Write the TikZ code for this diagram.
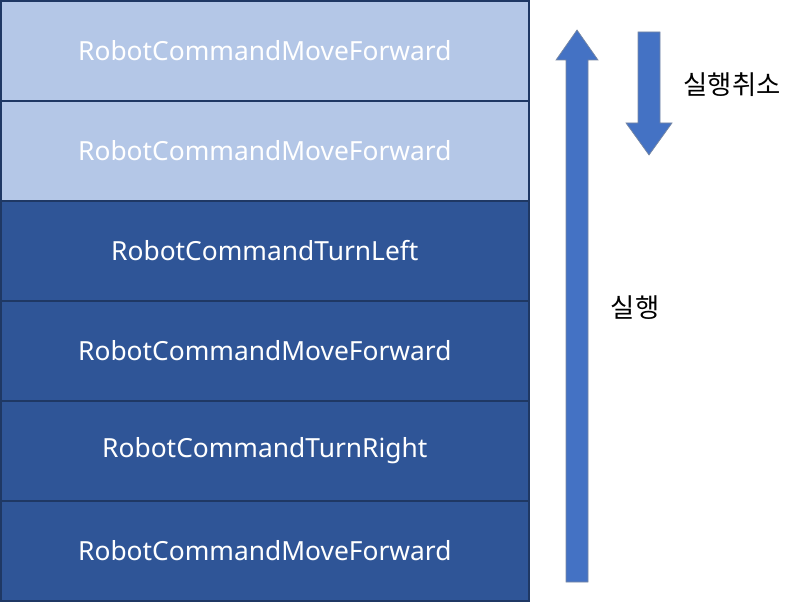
\documentclass[tikz,border=0pt]{standalone}
\usepackage{fontspec}
\setmainfont{Noto Sans}
\newfontfamily\kor{Noto Sans CJK KR}
\definecolor{lightcmd}{HTML}{B4C7E7}
\definecolor{darkcmd}{HTML}{2F5597}
\definecolor{edgecmd}{HTML}{1F3864}
\definecolor{arrowblue}{HTML}{4472C4}
\tikzset{
  cmd/.style={draw=edgecmd, line width=1pt, minimum width=10.56cm,
    minimum height=2cm, text=white, font=\fontsize{15}{18}\selectfont,
    anchor=north west, inner sep=0pt},
  light/.style={cmd, fill=lightcmd},
  dark/.style={cmd, fill=darkcmd},
  label/.style={font=\kor\fontsize{15}{18}\selectfont}
}
\begin{document}
\begin{tikzpicture}[x=0.02cm,y=-0.02cm]
  \useasboundingbox (0,0) rectangle (800,601);

  % stack
  \node[light] (c1) at (0,0) {RobotCommandMoveForward};
  \node[light] (c2) at (0,100) {RobotCommandMoveForward};
  \node[dark] (c3) at (0,200) {RobotCommandTurnLeft};
  \node[dark] (c4) at (0,300) {RobotCommandMoveForward};
  \node[dark] (c5) at (0,400) {RobotCommandTurnRight};
  \node[dark] (c6) at (0,500) {RobotCommandMoveForward};

  % run arrow
  \fill[arrowblue, draw=edgecmd!60, line width=0.4pt]
    (566,582) -- (566,60) -- (556,60) -- (577,30) -- (598,60) -- (588,60) -- (588,582) -- cycle;
  \node[label] (run) at (635,308) {실행};

  % undo arrow
  \fill[arrowblue, draw=edgecmd!60, line width=0.4pt]
    (638,32) -- (660,32) -- (660,123) -- (672,123) -- (649,155) -- (626,123) -- (638,123) -- cycle;
  \node[label] (undo) at (732,85) {실행취소};
\end{tikzpicture}
\end{document}
